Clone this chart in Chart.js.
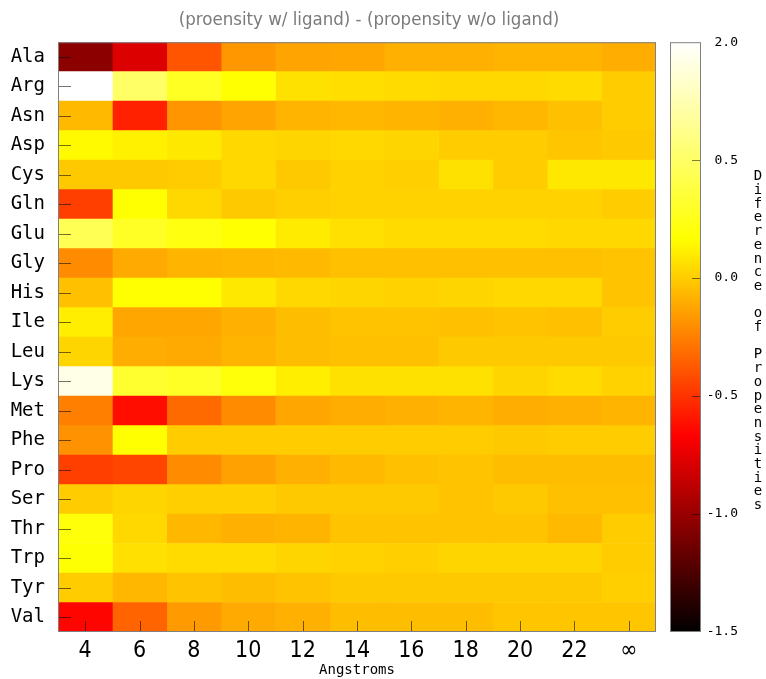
<!DOCTYPE html>
<html>
<head>
<meta charset="utf-8">
<script src="https://cdn.jsdelivr.net/npm/chart.js"></script>
<style>
  html, body { margin: 0; padding: 0; background: #fff; }
  canvas { display: block; }
</style>
</head>
<body>
<canvas id="heat" width="766" height="679"></canvas>
<script>
// Residues (rows, top to bottom) and contact distances (columns)
const aminoAcids = ['Ala','Arg','Asn','Asp','Cys','Gln','Glu','Gly','His','Ile',
                    'Leu','Lys','Met','Phe','Pro','Ser','Thr','Trp','Tyr','Val'];
const distances = ['4','6','8','10','12','14','16','18','20','22','\u221E'];
const colorbarLabels = ['-1.5','-1.0','-0.5','0.0','0.5','2.0'];

// Propensity difference per residue, one value per distance
const ala = [-1.04, -0.78, -0.39, -0.17, -0.13, -0.12, -0.09, -0.09, -0.08, -0.08, -0.10];
const arg = [ 1.00,  0.50,  0.28,  0.17,  0.07,  0.06,  0.05,  0.04,  0.04,  0.05,  0.00];
const asn = [-0.06, -0.56, -0.18, -0.13, -0.08, -0.07, -0.08, -0.09, -0.07, -0.04,  0.00];
const asp = [ 0.15,  0.12,  0.09,  0.04,  0.03,  0.04,  0.03,  0.00,  0.00, -0.02, -0.01];
const cys = [-0.01, -0.01,  0.00,  0.04, -0.01,  0.02,  0.01,  0.07,  0.00,  0.09,  0.09];
const gln = [-0.46,  0.17,  0.04, -0.01,  0.01,  0.02,  0.02,  0.02,  0.02,  0.02,  0.00];
const glu = [ 0.44,  0.29,  0.22,  0.17,  0.10,  0.065, 0.05,  0.05,  0.05,  0.04,  0.04];
const gly = [-0.21, -0.11, -0.08, -0.07, -0.06, -0.04, -0.04, -0.04, -0.04, -0.04, -0.03];
const his = [-0.04,  0.17,  0.17,  0.09,  0.04,  0.03,  0.02,  0.03,  0.04,  0.04, -0.03];
const ile = [ 0.11, -0.12, -0.12, -0.09, -0.05, -0.03, -0.03, -0.04, -0.03, -0.04,  0.00];
const leu = [ 0.03, -0.10, -0.11, -0.08, -0.05, -0.04, -0.04, -0.01, -0.01, -0.01, -0.01];
const lys = [ 0.92,  0.32,  0.29,  0.20,  0.11,  0.07,  0.07,  0.07,  0.03,  0.05,  0.02];
const met = [-0.25, -0.62, -0.32, -0.21, -0.12, -0.10, -0.09, -0.08, -0.10, -0.09, -0.08];
const phe = [-0.19,  0.17,  0.00,  0.00,  0.00,  0.00,  0.00,  0.00, -0.01,  0.00,  0.00];
const pro = [-0.46, -0.44, -0.21, -0.14, -0.09, -0.06, -0.04, -0.03, -0.05, -0.05, -0.05];
const ser = [ 0.00,  0.03,  0.01,  0.01, -0.01, -0.01, -0.01, -0.03, -0.01, -0.04, -0.04];
const thr = [ 0.20,  0.04, -0.07, -0.09, -0.08, -0.03, -0.03, -0.03, -0.03, -0.06,  0.00];
const trp = [ 0.18,  0.065, 0.05,  0.05,  0.03,  0.02,  0.01,  0.03,  0.03,  0.03,  0.00];
const tyr = [ 0.00, -0.07, -0.03, -0.05, -0.03, -0.01, -0.01, -0.01, -0.01, -0.01,  0.01];
const val = [-0.65, -0.34, -0.16, -0.11, -0.09, -0.05, -0.05, -0.05, -0.02, -0.02, -0.02];

const matrix = [ala, arg, asn, asp, cys, gln, glu, gly, his, ile,
                leu, lys, met, phe, pro, ser, thr, trp, tyr, val];

// Colour range of the "hot" palette (black -> red -> yellow -> white)
const CB_MIN = -1.5, CB_MAX = 1.0;

function hot(v) {
  let t = (v - CB_MIN) / (CB_MAX - CB_MIN);
  t = Math.max(0, Math.min(1, t));
  const c = x => Math.round(255 * Math.max(0, Math.min(1, x)));
  return `rgb(${c(3 * t)},${c(3 * t - 1)},${c(3 * t - 2)})`;
}

const MONO = '"DejaVu Sans Mono", "Liberation Mono", monospace';
const NARROW = '"Liberation Sans Narrow", "DejaVu Sans Condensed", "Liberation Sans", sans-serif';

// One dataset per distance column: a floating bar spanning that column for every residue
const datasets = distances.map((d, j) => ({
  label: d,
  xAxisID: 'x',
  yAxisID: 'y',
  data: aminoAcids.map(() => [j - 0.5, j + 0.5]),
  backgroundColor: matrix.map(row => hot(row[j])),
  borderWidth: 0,
  borderSkipped: false,
  barPercentage: 1,
  categoryPercentage: 1,
  grouped: false
}));

// Frame, inward tick marks, colour bar and its stacked-letter label
const decorations = {
  id: 'decorations',
  afterDraw(chart) {
    const { ctx, chartArea: a, scales } = chart;
    const xs = scales.x, ys = scales.y, cb = scales.cb;
    ctx.save();

    const line = (x1, y1, x2, y2) => {
      ctx.beginPath(); ctx.moveTo(x1, y1); ctx.lineTo(x2, y2); ctx.stroke();
    };

    ctx.lineWidth = 1;
    ctx.strokeStyle = 'rgba(0,0,0,0.55)';
    aminoAcids.forEach((_, i) => {
      const py = Math.round(ys.getPixelForValue(i)) + 0.5;
      line(a.left, py, a.left + 13, py);
    });
    distances.forEach((_, i) => {
      const px = Math.round(xs.getPixelForValue(i)) + 0.5;
      line(px, a.bottom, px, a.bottom - 11);
    });

    ctx.strokeStyle = '#808080';
    ctx.strokeRect(a.left + 0.5, a.top + 0.5, a.right - a.left - 1, a.bottom - a.top - 1);

    // Colour bar
    const top = cb.getPixelForValue(CB_MAX);
    const bot = cb.getPixelForValue(CB_MIN);
    const grad = ctx.createLinearGradient(0, bot, 0, top);
    grad.addColorStop(0, '#000000');
    grad.addColorStop(1 / 3, '#ff0000');
    grad.addColorStop(2 / 3, '#ffff00');
    grad.addColorStop(1, '#ffffff');
    const bx = cb.left + 14, bw = 31;
    ctx.fillStyle = grad;
    ctx.fillRect(bx, top, bw, bot - top);

    ctx.strokeStyle = 'rgba(0,0,0,0.5)';
    cb.ticks.forEach((t, i) => {
      if (i === 0 || i === cb.ticks.length - 1) return;
      const py = Math.round(cb.getPixelForValue(t.value)) + 0.5;
      line(bx + bw - 9, py, bx + bw, py);
    });
    ctx.strokeStyle = '#808080';
    ctx.strokeRect(bx + 0.5, top + 0.5, bw - 1, bot - top - 1);

    // Vertical label written one letter per line
    const label = 'Diference of Propensities';
    const step = 13.7;
    const mid = (a.top + a.bottom) / 2 + 4;
    ctx.fillStyle = '#000';
    ctx.font = '14px ' + MONO;
    ctx.textAlign = 'center';
    ctx.textBaseline = 'middle';
    const n = label.length;
    for (let k = 0; k < n; k++) {
      ctx.fillText(label[k], 758, mid + (k - (n - 1) / 2) * step);
    }
    ctx.restore();
  }
};

new Chart(document.getElementById('heat'), {
  type: 'bar',
  data: { labels: aminoAcids, datasets },
  options: {
    indexAxis: 'y',
    responsive: false,
    animation: false,
    layout: { padding: { left: 0, right: 28, top: 0, bottom: 0 } },
    plugins: {
      legend: { display: false },
      tooltip: { enabled: false },
      title: {
        display: true,
        text: '(proensity w/ ligand) - (propensity w/o ligand)',
        color: '#7a7a7a',
        font: { family: NARROW, size: 18.5, weight: 'normal' },
        padding: { top: 9, bottom: 11 }
      }
    },
    scales: {
      x: {
        type: 'linear',
        min: -0.5,
        max: 10.5,
        offset: false,
        afterBuildTicks: s => { s.ticks = distances.map((_, i) => ({ value: i })); },
        afterFit: s => { s.height = 47; },
        ticks: {
          callback: (v, i) => distances[i],
          color: '#000',
          font: { family: NARROW, size: 23 },
          padding: 5,
          maxRotation: 0,
          autoSkip: false
        },
        grid: { display: false, drawTicks: false },
        border: { display: false },
        title: {
          display: true,
          text: 'Angstroms',
          color: '#000',
          font: { family: MONO, size: 14 },
          padding: { top: 0, bottom: 0 }
        }
      },
      y: {
        type: 'category',
        position: 'left',
        afterFit: s => { s.width = 58; },
        ticks: {
          color: '#000',
          font: { family: MONO, size: 19 },
          padding: 13,
          autoSkip: false
        },
        grid: { display: false, drawTicks: false },
        border: { display: false }
      },
      cb: {
        type: 'linear',
        axis: 'y',
        position: 'right',
        offset: false,
        min: CB_MIN,
        max: CB_MAX,
        afterBuildTicks: s => {
          s.ticks = colorbarLabels.map((_, i) => ({ value: CB_MIN + 0.5 * i }));
        },
        afterFit: s => { s.width = 82; },
        ticks: {
          callback: (v, i) => colorbarLabels[i],
          color: '#000',
          font: { family: MONO, size: 13 },
          crossAlign: 'far',
          autoSkip: false
        },
        grid: { display: false, drawTicks: false, offset: false },
        border: { display: false }
      }
    }
  },
  plugins: [decorations]
});
</script>
</body>
</html>
